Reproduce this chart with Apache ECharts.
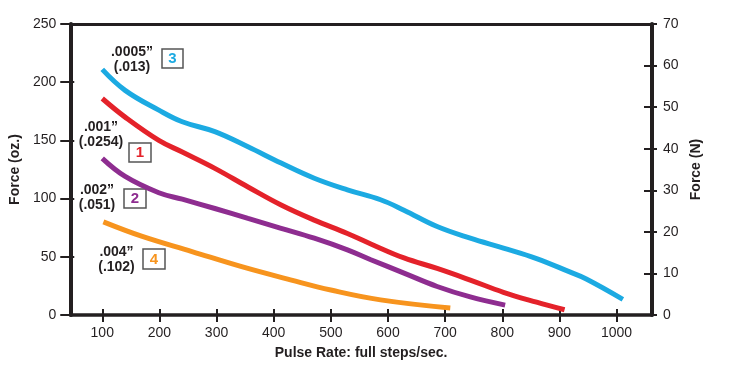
<!DOCTYPE html>
<html><head><meta charset="utf-8">
<script src="https://cdn.jsdelivr.net/npm/echarts@6/dist/echarts.min.js"></script>
<style>html,body{margin:0;padding:0;background:#fff}#c{width:729px;height:378px}</style>
</head><body><div id="c"></div>
<script>
// Data (pulse rate in full steps/sec, force in oz.)
var xTicks = [100,200,300,400,500,600,700,800,900,1000];
var curve3 = [[100,211],[140,193],[199,176],[240,166],[297,157.5],[355,144.5],[413,130.5],[471,117.5],[529,107.5],[587,99],[628,90],[686,76],[744,66],[802,57.5],[860,48.5],[918,37],[947,31],[1011,13.5]];
var curve1 = [[100,186],[140,170],[199,150],[240,140],[297,126],[355,110],[413,94.5],[471,81.5],[529,70],[570,61],[628,49],[686,40],[744,30],[802,19.5],[860,11],[909,4.5]];
var curve2 = [[100,134.5],[140,119],[199,105],[240,99.5],[297,91.5],[355,83],[413,74.5],[471,66],[529,56],[570,47.5],[628,36],[686,24.5],[744,15.5],[805,8.5]];
var curve4 = [[102,80],[170,67.5],[257,54.5],[344,41.5],[431,30],[500,21.5],[587,13],[709,6]];
var names = ['3','1','2','4'];
var colors = ['#1CAAE2','#E4222A','#8E2D90','#F7941E'];
var labelTop = ['.0005\u201d','.001\u201d','.002\u201d','.004\u201d'];
var labelBot = ['(.013)','(.0254)','(.051)','(.102)'];

var chart = echarts.init(document.getElementById('c'));
var ink = '#231F20';
var font = 'Liberation Sans, Arial, Helvetica, sans-serif';
function lineSeries(d, i){
  return {type:'line', name:names[i], data:d, smooth:0.4, showSymbol:false, xAxisIndex:0, yAxisIndex:0,
    lineStyle:{color:colors[i], width:5}, itemStyle:{color:colors[i]}, z:3, silent:true};
}
// annotation layout (pixels)
var ann = [
  {cx:132, y1:52, y2:67, bx:162, by:49, bw:21, bh:19},
  {cx:101, y1:127, y2:142, bx:129, by:143, bw:22, bh:19},
  {cx:97,  y1:190, y2:205, bx:124, by:189, bw:22, bh:19},
  {cx:116.5, y1:252, y2:267, bx:143, by:249, bw:22, bh:20}
];
var graphics = [];
ann.forEach(function(a,i){
  graphics.push({type:'text', x:a.cx, y:a.y1, style:{text:labelTop[i], font:'bold 14px '+font, fill:ink, textAlign:'center', textVerticalAlign:'middle'}});
  graphics.push({type:'text', x:a.cx, y:a.y2, style:{text:labelBot[i], font:'bold 14px '+font, fill:ink, textAlign:'center', textVerticalAlign:'middle'}});
  graphics.push({type:'rect', shape:{x:a.bx, y:a.by, width:a.bw, height:a.bh}, style:{fill:'#fff', stroke:'#555', lineWidth:1.5}});
  graphics.push({type:'text', x:a.bx+a.bw/2, y:a.by+a.bh/2+0.5, style:{text:names[i], font:'bold 15px '+font, fill:colors[i], textAlign:'center', textVerticalAlign:'middle'}});
});
var lab = {color:ink, fontSize:14, fontFamily:font, formatter:function(v){return String(v);}};
chart.setOption({
  animation:false,
  grid:{left:68, right:77, top:24, bottom:63, containLabel:false},
  xAxis:[
    {type:'value', position:'bottom', min:44, max:1062,
     name:'Pulse Rate: full steps/sec.', nameLocation:'middle', nameGap:31,
     nameTextStyle:{color:ink, fontSize:14, fontWeight:'bold', fontFamily:font},
     axisLine:{show:true, onZero:false, lineStyle:{color:ink, width:3.5}},
     axisTick:{show:true, length:7, customValues:xTicks, lineStyle:{color:ink, width:2}},
     axisLabel:Object.assign({customValues:xTicks, margin:11}, lab),
     splitLine:{show:false}},
    {type:'value', position:'bottom', min:44, max:1062,
     axisLine:{show:false, onZero:false}, axisTick:{show:true, inside:true, length:6, customValues:xTicks, lineStyle:{color:ink, width:2}},
     axisLabel:{show:false}, splitLine:{show:false}},
    {type:'value', position:'top', min:44, max:1062,
     axisLine:{show:true, onZero:false, lineStyle:{color:ink, width:3}}, axisTick:{show:false}, axisLabel:{show:false}, splitLine:{show:false}}
  ],
  yAxis:[
    {type:'value', position:'left', min:0, max:250, interval:50,
     name:'Force (oz.)', nameLocation:'middle', nameGap:47, nameRotate:90,
     nameTextStyle:{color:ink, fontSize:14, fontWeight:'bold', fontFamily:font},
     axisLine:{show:true, onZero:false, lineStyle:{color:ink, width:4}},
     axisTick:{show:true, length:10, lineStyle:{color:ink, width:2}},
     axisLabel:Object.assign({margin:14}, lab), splitLine:{show:false}},
    {type:'value', position:'right', min:0, max:70, interval:10,
     name:'Force (N)', nameLocation:'middle', nameGap:33, nameRotate:90,
     nameTextStyle:{color:ink, fontSize:14, fontWeight:'bold', fontFamily:font},
     axisLine:{show:true, onZero:false, lineStyle:{color:ink, width:4}},
     axisTick:{show:true, inside:true, length:8, lineStyle:{color:ink, width:2}},
     axisLabel:Object.assign({margin:11}, lab), splitLine:{show:false}},
    {type:'value', position:'left', min:0, max:250, interval:50,
     axisLine:{show:false, onZero:false}, axisTick:{show:true, inside:true, length:4, lineStyle:{color:ink, width:2}},
     axisLabel:{show:false}, splitLine:{show:false}},
    {type:'value', position:'right', min:0, max:70, interval:10,
     axisLine:{show:false, onZero:false}, axisTick:{show:true, length:5, lineStyle:{color:ink, width:2}},
     axisLabel:{show:false}, splitLine:{show:false}}
  ],
  series:[lineSeries(curve3,0), lineSeries(curve1,1), lineSeries(curve2,2), lineSeries(curve4,3)],
  graphic:graphics
});
</script></body></html>
